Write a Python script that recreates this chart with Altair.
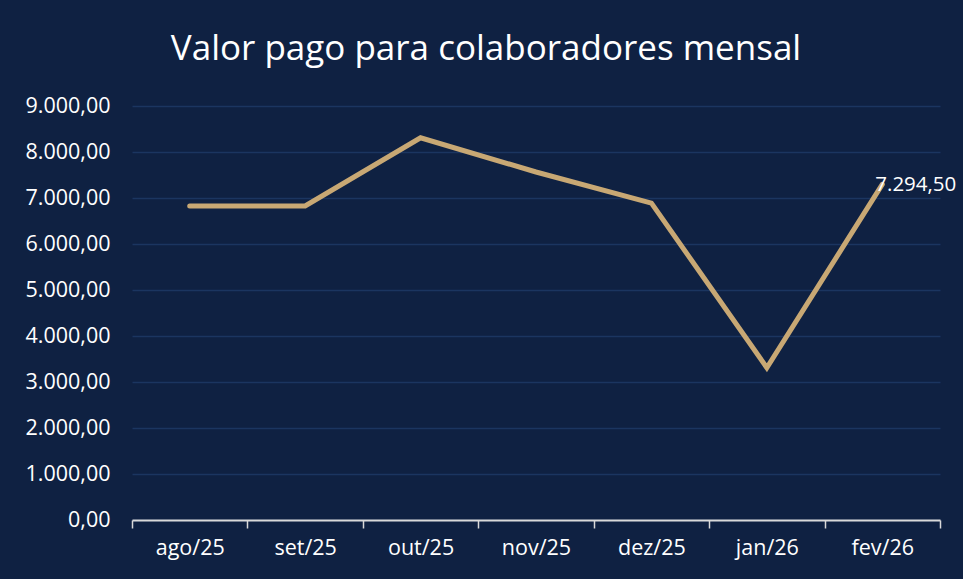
import altair as alt
import pandas as pd

months = ["ago/25", "set/25", "out/25", "nov/25", "dez/25", "jan/26", "fev/26"]
values = [6826, 6826, 8310, 7565, 6890, 3310, 7294.50]
label_text = ["", "", "", "", "", "", "7.294,50"]

df = pd.DataFrame({"mes": months, "valor": values, "rotulo": label_text})

BG = "#0F2142"
LINE = "#C8A874"
GRID = "#1B3560"
FONT = "Open Sans"

x = alt.X("mes:N", sort=months, title=None,
          scale=alt.Scale(paddingInner=0, paddingOuter=0),
          axis=alt.Axis(labelAngle=0, bandPosition=0, tickBand="extent",
                        domainColor="#D9D9D9", domainWidth=2,
                        tickColor="#D9D9D9", tickWidth=1.5, tickSize=8,
                        labelColor="#FFFFFF", labelFont=FONT, labelFontSize=21.5,
                        labelPadding=9, grid=False))
y = alt.Y("valor:Q", title=None,
          scale=alt.Scale(domain=[0, 9000], nice=False),
          axis=alt.Axis(values=list(range(0, 9001, 1000)), format=",.2f",
                        domain=False, ticks=False, labelPadding=22,
                        labelColor="#FFFFFF", labelFont=FONT, labelFontSize=21.5,
                        gridColor=GRID, gridWidth=1.5))

line = alt.Chart(df).mark_line(color=LINE, strokeWidth=5, strokeCap="round",
                               strokeJoin="miter").encode(x=x, y=y)

text = alt.Chart(df).mark_text(align="left", baseline="middle", dx=-7, dy=1,
                               color="#FFFFFF", font=FONT, fontSize=20.5).encode(
    x=alt.X("mes:N", sort=months), y="valor:Q", text="rotulo:N")

chart = alt.layer(line, text).properties(
    width=808, height=414,
    title=alt.TitleParams("Valor pago para colaboradores mensal", color="#FFFFFF",
                          font=FONT, fontSize=35, fontWeight="normal",
                          anchor="middle", dx=-50, offset=28),
    background=BG,
    padding={"left": 132, "top": 106, "right": 23, "bottom": 59},
    autosize=alt.AutoSizeParams(type="none"),
).configure(
    locale={"number": {"decimal": ",", "thousands": ".", "grouping": [3],
                       "currency": ["R$", ""]}},
    view=alt.ViewConfig(stroke=None),
)

chart.save("out.html", embed_options={"renderer": "svg", "actions": False})
